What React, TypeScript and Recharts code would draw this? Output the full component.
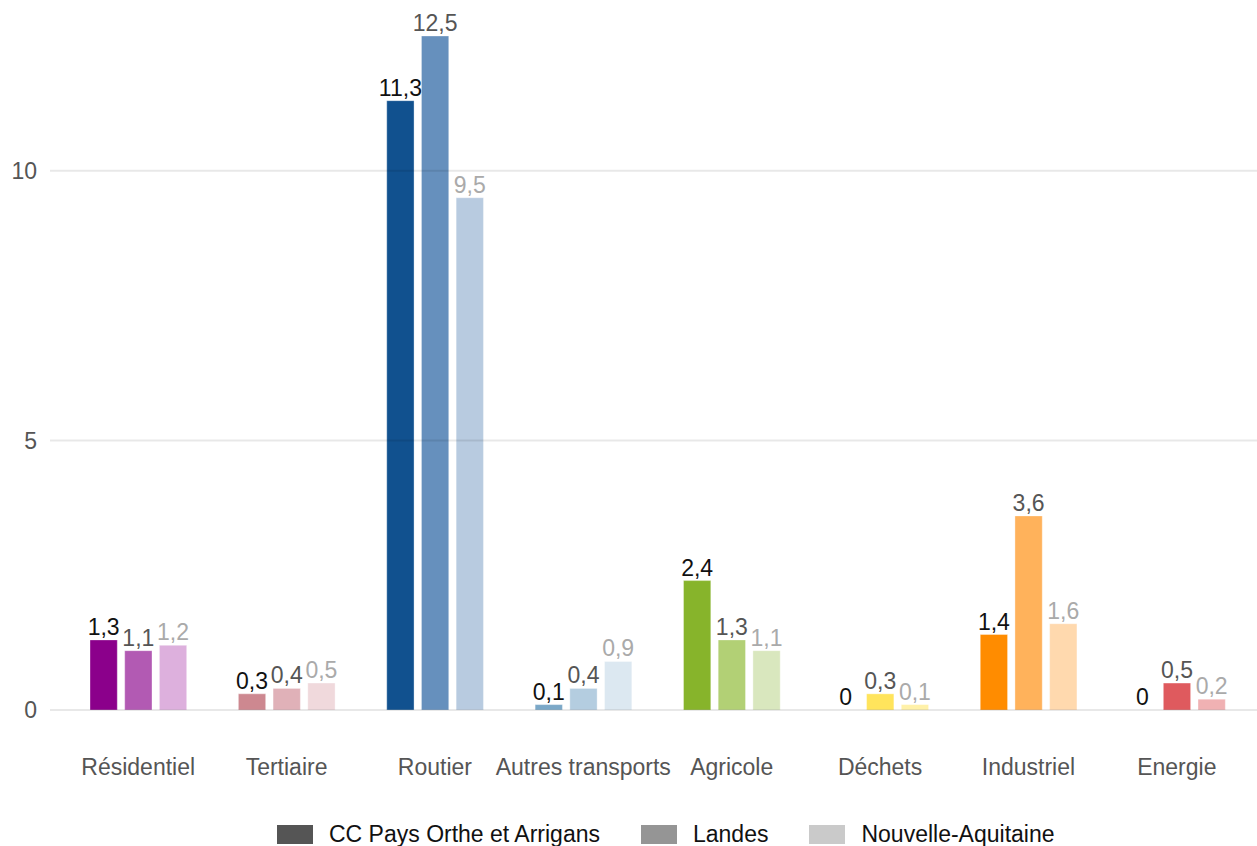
import React from "react";
import { BarChart, Bar, XAxis, YAxis, Cell, LabelList, Legend, ReferenceLine } from "recharts";

// Sectors and emissions per territory
const categories = [
  "Résidentiel",
  "Tertiaire",
  "Routier",
  "Autres transports",
  "Agricole",
  "Déchets",
  "Industriel",
  "Energie",
];

const ccPaysOrthe = [1.3, 0.3, 11.3, 0.1, 2.4, 0, 1.4, 0];
const landes = [1.1, 0.4, 12.5, 0.4, 1.3, 0.3, 3.6, 0.5];
const nouvelleAquitaine = [1.2, 0.5, 9.5, 0.9, 1.1, 0.1, 1.6, 0.2];

const seriesNames = ["CC Pays Orthe et Arrigans", "Landes", "Nouvelle-Aquitaine"];
const yTicks = [0, 5, 10];

// Sector palettes: dark / medium / light shade per series
const darkColors = ["#8b008b", "#cd8890", "#11518f", "#7ba8c8", "#87b42b", "#ffd700", "#ff8c00", "#c0282e"];
const mediumColors = ["#b25ab3", "#e0b1b8", "#6690bd", "#b4cde0", "#b2d075", "#ffe45c", "#ffb25b", "#df5a5e"];
const lightColors = ["#ddb0dd", "#f0d9dc", "#b8cbe0", "#dce8f1", "#d9e7be", "#fff1a8", "#ffd9ae", "#f0b1b3"];

const labelColors = ["#111111", "#555555", "#aaaaaa"];
const legendColors = ["#555555", "#959595", "#cacaca"];

const data = categories.map((name, i) => ({
  name,
  cc: ccPaysOrthe[i],
  landes: landes[i],
  na: nouvelleAquitaine[i],
}));

const FONT = '"Liberation Sans", Arial, sans-serif';

const formatValue = (v: any) => String(v).replace(".", ",");

const LegendContent = () => (
  <div
    style={{
      height: 40,
      boxSizing: "border-box",
      paddingTop: 16,
      paddingLeft: 277,
      display: "flex",
      alignItems: "center",
      fontFamily: FONT,
      fontSize: 23,
      color: "#111",
      lineHeight: "24px",
    }}
  >
    {seriesNames.map((n, i) => (
      <div key={n} style={{ display: "flex", alignItems: "center", marginRight: i < 2 ? 41 : 0 }}>
        <span style={{ display: "inline-block", width: 36, height: 19, background: legendColors[i], marginRight: 16 }} />
        <span>{n}</span>
      </div>
    ))}
  </div>
);

export default function App() {
  const keys = ["cc", "landes", "na"];
  const palettes = [darkColors, mediumColors, lightColors];
  return (
    <div style={{ position: "absolute", left: 0, top: 0, width: 1257, height: 846, background: "#fff" }}>
      <BarChart
        width={1257}
        height={846}
        data={data}
        margin={{ top: 9, right: 0, bottom: 0, left: 0 }}
        barSize={27.3}
        barGap={7.4}
      >
        <XAxis
          dataKey="name"
          axisLine={false}
          tickLine={false}
          tickMargin={43}
          height={96}
          padding={{ left: 14, right: 6 }}
          interval={0}
          tick={{ fill: "#555555", fontSize: 23, fontFamily: FONT }}
        />
        <YAxis
          width={50}
          domain={[0, 13]}
          ticks={yTicks}
          axisLine={false}
          tickLine={false}
          tickMargin={7}
          tick={{ fill: "#555555", fontSize: 23, fontFamily: FONT }}
        />
        {yTicks.map((t) => (
          <ReferenceLine key={t} y={t} stroke="#000000" strokeOpacity={0.09} strokeWidth={2} />
        ))}
        <Legend verticalAlign="bottom" content={<LegendContent />} />
        {keys.map((k, s) => (
          <Bar
            key={k}
            dataKey={k}
            name={seriesNames[s]}
            minPointSize={0.01}
            stroke="#ffffff"
            strokeOpacity={0.35}
            strokeWidth={1}
            isAnimationActive={false}
          >
            {data.map((d, i) => (
              <Cell key={d.name} fill={palettes[s][i]} />
            ))}
            <LabelList
              dataKey={k}
              position="top"
              offset={5}
              formatter={formatValue}
              style={{ fill: labelColors[s], fontSize: 23, fontFamily: FONT, stroke: "none" }}
            />
          </Bar>
        ))}
      </BarChart>
    </div>
  );
}
